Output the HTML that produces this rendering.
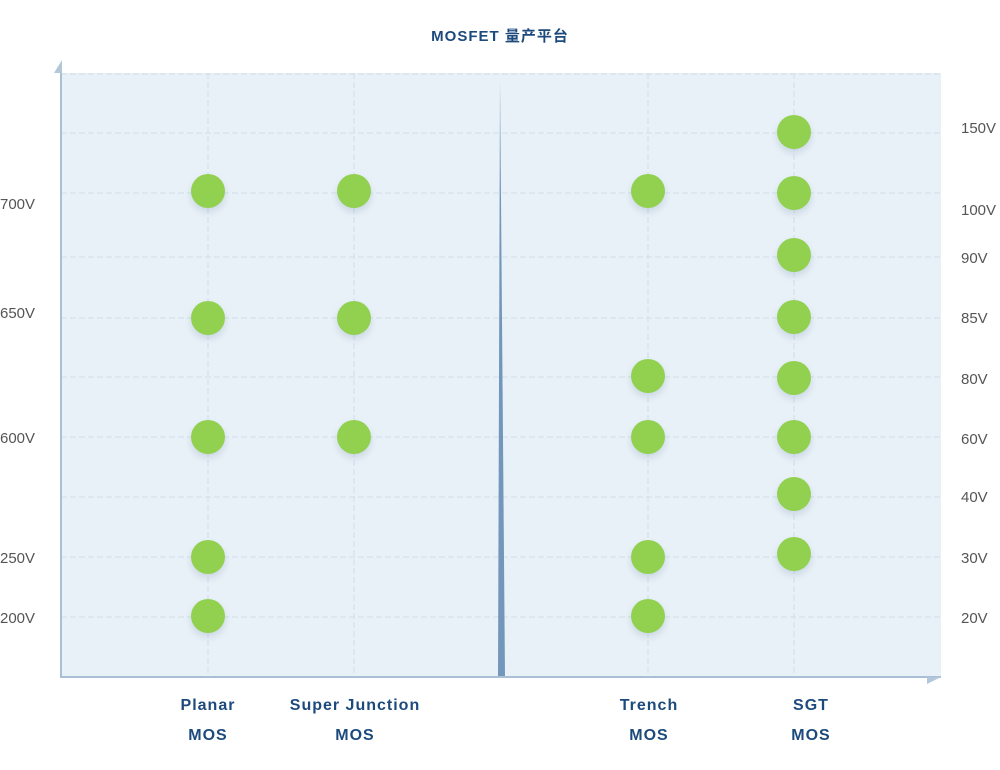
<!DOCTYPE html>
<html><head><meta charset="utf-8"><style>
body{margin:0;background:#fff;width:1000px;height:770px;overflow:hidden}
svg{display:block}
.l{font-family:"Liberation Sans","Noto Sans CJK SC",sans-serif;font-size:15px;fill:#555}
.c{font-family:"Liberation Sans","Noto Sans CJK SC",sans-serif;font-size:16px;font-weight:bold;fill:#1d4a7c;letter-spacing:1px}
</style></head><body>
<svg width="1000" height="770" viewBox="0 0 1000 770">
<defs><filter id="s" x="-50%" y="-50%" width="200%" height="200%"><feDropShadow dx="0" dy="4" stdDeviation="4" flood-color="#8fa4b8" flood-opacity="0.35"/></filter></defs>
<text x="500" y="41" text-anchor="middle" class="c" style="font-size:15px">MOSFET 量产平台</text>
<rect x="61" y="73" width="880" height="604" fill="#e9f1f8"/>
<g stroke="#cfdde9" stroke-width="1" stroke-dasharray="6,3">
<line x1="61" y1="74" x2="941" y2="74"/>
<line x1="61" y1="133" x2="941" y2="133"/>
<line x1="61" y1="193" x2="941" y2="193"/>
<line x1="61" y1="257" x2="941" y2="257"/>
<line x1="61" y1="318" x2="941" y2="318"/>
<line x1="61" y1="377" x2="941" y2="377"/>
<line x1="61" y1="437" x2="941" y2="437"/>
<line x1="61" y1="497" x2="941" y2="497"/>
<line x1="61" y1="557" x2="941" y2="557"/>
<line x1="61" y1="617" x2="941" y2="617"/>
<line x1="208" y1="73" x2="208" y2="677"/>
<line x1="354" y1="73" x2="354" y2="677"/>
<line x1="648" y1="73" x2="648" y2="677"/>
<line x1="794" y1="73" x2="794" y2="677"/>
</g>
<polygon points="500,80 505,677 498,677" fill="#7297bb"/>
<line x1="61" y1="70" x2="61" y2="678" stroke="#a9bfd6" stroke-width="2"/>
<polygon points="54,73 62,73 62,60" fill="#b3c7db"/>
<line x1="60" y1="677" x2="941" y2="677" stroke="#a9bfd6" stroke-width="2"/>
<polygon points="927,684 941,677 927,677" fill="#b3c7db"/>
<g fill="#92d050" filter="url(#s)">
<circle cx="208" cy="191" r="17"/><circle cx="208" cy="318" r="17"/><circle cx="208" cy="437" r="17"/><circle cx="208" cy="557" r="17"/><circle cx="208" cy="616" r="17"/>
<circle cx="354" cy="191" r="17"/><circle cx="354" cy="318" r="17"/><circle cx="354" cy="437" r="17"/>
<circle cx="648" cy="191" r="17"/><circle cx="648" cy="376" r="17"/><circle cx="648" cy="437" r="17"/><circle cx="648" cy="557" r="17"/><circle cx="648" cy="616" r="17"/>
<circle cx="794" cy="132" r="17"/><circle cx="794" cy="193" r="17"/><circle cx="794" cy="255" r="17"/><circle cx="794" cy="317" r="17"/><circle cx="794" cy="378" r="17"/><circle cx="794" cy="437" r="17"/><circle cx="794" cy="494" r="17"/><circle cx="794" cy="554" r="17"/>
</g>
<g class="l">
<text x="0" y="209">700V</text><text x="0" y="318">650V</text><text x="0" y="443">600V</text><text x="0" y="563">250V</text><text x="0" y="623">200V</text>
<text x="961" y="133">150V</text><text x="961" y="215">100V</text><text x="961" y="263">90V</text><text x="961" y="323">85V</text><text x="961" y="384">80V</text><text x="961" y="444">60V</text><text x="961" y="502">40V</text><text x="961" y="563">30V</text><text x="961" y="623">20V</text>
</g>
<g class="c" text-anchor="middle">
<text x="208" y="710">Planar</text><text x="208" y="740">MOS</text>
<text x="355" y="710">Super Junction</text><text x="355" y="740">MOS</text>
<text x="649" y="710">Trench</text><text x="649" y="740">MOS</text>
<text x="811" y="710">SGT</text><text x="811" y="740">MOS</text>
</g>
</svg>
</body></html>
